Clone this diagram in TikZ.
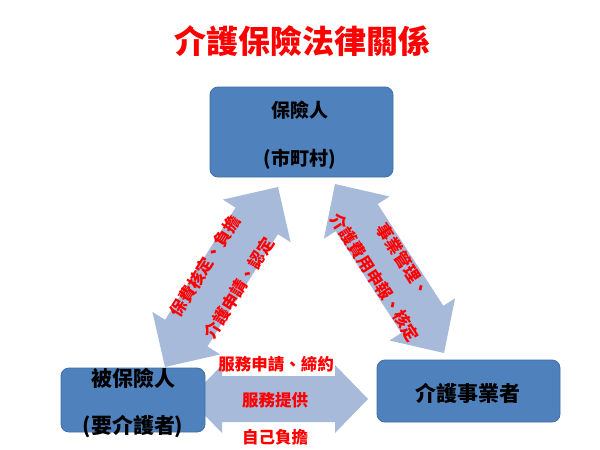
\documentclass[tikz,border=0pt]{standalone}
\usepackage{fontspec}
\setmainfont{Noto Sans CJK TC}
\usetikzlibrary{calc}
\definecolor{boxblue}{RGB}{79,129,189}
\definecolor{boxedge}{RGB}{65,110,165}
\definecolor{arrowblue}{RGB}{167,186,218}
\definecolor{labelred}{RGB}{255,0,0}
\newcommand\blockarrow[5]{%
  \path ($(#1)!#5!(#2)$) coordinate (ha) ($(#2)!#5!(#1)$) coordinate (hb);
  \fill[arrowblue] (#1) -- ($(ha)!#3!90:(#2)$) -- ($(ha)!#4!90:(#2)$)
    -- ($(hb)!#4!-90:(#1)$) -- ($(hb)!#3!-90:(#1)$) -- (#2)
    -- ($(hb)!#3!90:(#1)$) -- ($(hb)!#4!90:(#1)$)
    -- ($(ha)!#4!-90:(#2)$) -- ($(ha)!#3!-90:(#2)$) -- cycle;
}
\tikzset{
  party/.style={draw=boxedge, line width=0.8pt, fill=boxblue, rounded corners=8pt, inner sep=0pt},
  boxtext/.style={font=\fontsize{19}{19}\selectfont\bfseries, text=black, inner sep=0pt},
  redlab/.style={font=\fontsize{16.5}{16.5}\selectfont\bfseries, text=labelred, inner sep=0pt},
}
\begin{document}
\begin{tikzpicture}[x=1pt,y=-1pt]
\useasboundingbox (0,0) rectangle (600,450);
\fill[white] (0,0) rectangle (600,450);
% title
\node[font=\fontsize{32}{32}\selectfont\bfseries, text=labelred, inner sep=0pt] (title) at (302,41) {介護保險法律關係};
% arrow end points
\coordinate (la) at (165,367);
\coordinate (lb) at (278,187);
\coordinate (ra) at (335,184);
\coordinate (rb) at (444,353);
\coordinate (ha1) at (189,399);
\coordinate (hb1) at (368,399);
\blockarrow{la}{lb}{40pt}{25pt}{40pt}
\blockarrow{ra}{rb}{39pt}{25pt}{40pt}
\blockarrow{ha1}{hb1}{34pt}{23pt}{33pt}
% boxes
\node[party, minimum width=183pt, minimum height=90pt] (insurer) at (301.5,132) {};
\node[party, minimum width=144pt, minimum height=64pt] (insured) at (133,400) {};
\node[party, minimum width=183pt, minimum height=62pt] (provider) at (468.5,391) {};
% box texts
\node[boxtext] (t1) at (300,110) {保險人};
\node[boxtext] (t2) at (300,159) {(市町村)};
\node[boxtext, font=\fontsize{21}{21}\selectfont\bfseries] (t3) at (133,378) {被保險人};
\node[boxtext, font=\fontsize{21}{21}\selectfont\bfseries] (t4) at (133,426) {(要介護者)};
\node[boxtext, font=\fontsize{21}{21}\selectfont\bfseries] (t5) at (468,393) {介護事業者};
% arrow labels
\node[redlab, rotate=57.9] (l1) at (205,266.5) {保費核定、負擔};
\node[redlab, rotate=57.9] (l2) at (239,288) {介護申請、認定};
\node[redlab, rotate=-57.2] (r1) at (403,260) {事業管理、};
\node[redlab, rotate=-57.2] (r2) at (375,277.5) {介護費用申報、核定};
\node[redlab] (h1) at (276,364) {服務申請、締約};
\node[redlab] (h2) at (275,400) {服務提供};
\node[redlab] (h3) at (275,437) {自己負擔};
\end{tikzpicture}
\end{document}
